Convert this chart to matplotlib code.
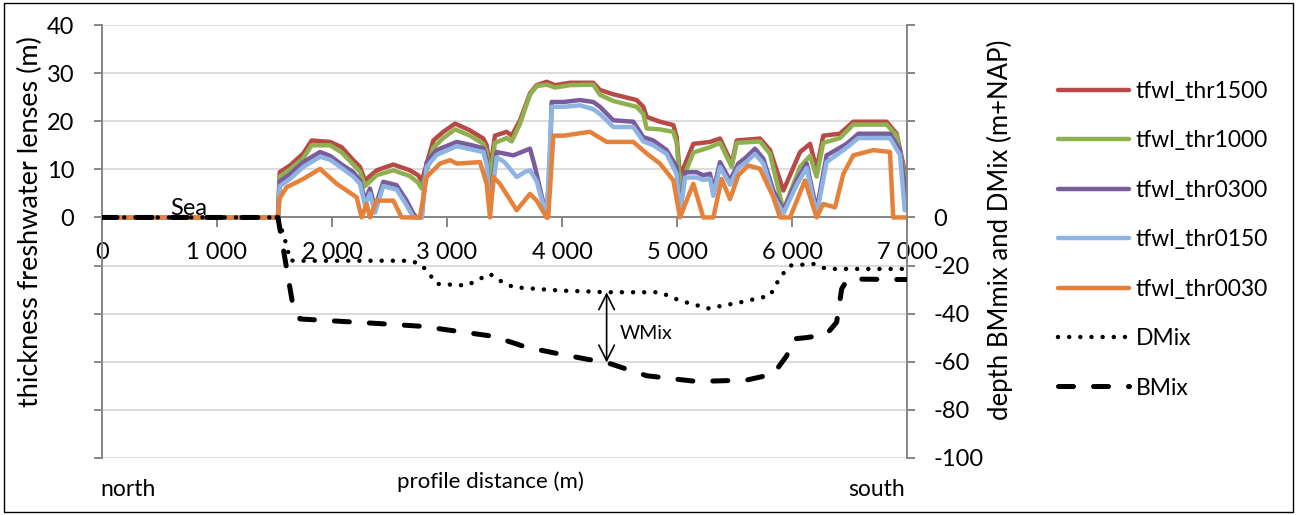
import matplotlib
matplotlib.use("Agg")
import matplotlib.pyplot as plt
from matplotlib.patches import Rectangle
from matplotlib.ticker import FuncFormatter

plt.rcParams['font.family'] = ['Lato', 'DejaVu Sans']

# ---------------- data (distance in m) ----------------
x_1500 = [0, 1530, 1545, 1635, 1750, 1823, 1983, 2084, 2185, 2243, 2287, 2389, 2533, 2678, 2750, 2780,
          2881, 2968, 3070, 3200, 3316, 3345, 3374, 3417, 3519, 3563, 3635, 3722, 3780, 3867, 3939, 4070,
          4272, 4330, 4446, 4649, 4707, 4736, 4852, 4968, 4997, 5026, 5142, 5287, 5374, 5476, 5519, 5722,
          5809, 5925, 6070, 6157, 6214, 6272, 6417, 6533, 6823, 6910, 6997]
y_1500 = [0, 0, 9.4, 10.8, 13.3, 16, 15.7, 14.6, 11.9, 10.5, 7.7, 9.8, 11, 9.8, 8.75, 7.5,
          16, 17.8, 19.5, 18.1, 16.4, 15, 9.8, 17, 17.8, 17, 20.2, 25.8, 27.5, 28.2, 27.5, 28,
          28, 26.5, 25.6, 24.4, 23, 20.9, 19.9, 19.2, 16.7, 8.5, 15.3, 15.7, 16.4, 11.2, 16, 16.4,
          14, 5.6, 13.6, 15.3, 10, 17, 17.4, 19.9, 19.9, 17.4, 7.7]

x_1000 = x_1500
y_1000 = [0, 0, 8.5, 10, 12.3, 15, 15, 13.5, 11, 9.5, 6.5, 8.8, 9.8, 8.6, 7.2, 6,
          14.5, 16.5, 18.3, 17, 15.3, 13.5, 8, 15.5, 16.5, 15.8, 19.5, 25.5, 27.3, 27.6, 27, 27.5,
          27.6, 25.5, 24.2, 23, 21.5, 18.5, 18.3, 17.8, 15.5, 6.5, 13.5, 14.6, 15.5, 10.5, 15.5, 15.8,
          13.2, 1.5, 10.5, 12.8, 8.5, 15.5, 16.5, 19.3, 19.3, 17, 6.5]

x_0300 = [0, 1530, 1545, 1635, 1750, 1896, 1983, 2084, 2185, 2243, 2287, 2330, 2374, 2446, 2562, 2649,
          2707, 2736, 2780, 2823, 2910, 3084, 3200, 3316, 3345, 3374, 3432, 3577, 3722, 3765, 3867, 3895,
          3910, 4014, 4157, 4272, 4330, 4446, 4620, 4707, 4794, 4910, 4997, 5026, 5070, 5171, 5229, 5287,
          5316, 5374, 5461, 5533, 5606, 5678, 5751, 5838, 5925, 6041, 6128, 6214, 6301, 6475, 6577, 6852,
          6939, 6997]
y_0300 = [0, 0, 7.5, 9, 11.5, 13.6, 12.8, 11, 9.4, 7.7, 3.5, 6, 2, 7.4, 6.7, 3.5,
          0.8, 0, 0, 11.5, 14, 15.7, 15.1, 14.4, 12, 2.9, 13.6, 12.9, 14.3, 10.5, 0, 12,
          24, 24, 24.4, 24, 23, 20.2, 19.9, 16.7, 16, 14, 10.5, 1, 9.4, 9.4, 8.75, 9.1,
          5.6, 11.5, 7.7, 11.2, 12.6, 14.3, 12.2, 5.6, 1.5, 7.7, 11.2, 1.5, 12.9, 15.3, 17.4, 17.4,
          14, 2.9]

x_0150 = [0, 1530, 1545, 1635, 1750, 1896, 1983, 2084, 2185, 2243, 2287, 2330, 2374, 2446, 2562, 2649,
          2707, 2736, 2780, 2823, 2910, 3084, 3200, 3316, 3345, 3374, 3432, 3500, 3606, 3680, 3722, 3780,
          3867, 3910, 4014, 4157, 4272, 4330, 4446, 4620, 4707, 4794, 4910, 4997, 5026, 5070, 5171, 5229,
          5287, 5316, 5374, 5461, 5533, 5606, 5678, 5751, 5838, 5925, 6041, 6128, 6214, 6301, 6475, 6577,
          6852, 6939, 6980, 6997]
y_0150 = [0, 0, 6.5, 8, 10.5, 12.6, 12, 10.3, 8.5, 7, 2.5, 5, 1, 6.5, 5.8, 2.5,
          0, 0, 0, 10.5, 13, 14.8, 14.2, 13.6, 11, 1.5, 12.5, 11.5, 8.4, 9.5, 9.8, 7.5,
          0, 23, 23, 23.3, 22.5, 21.5, 18.8, 18.8, 15.8, 15, 13.2, 9, 0.5, 8.3, 8.3, 7.8,
          8, 4.5, 10.5, 6.8, 10.3, 11.6, 13.2, 11.2, 4.5, 0.8, 6.8, 10.3, 0.5, 11.5, 14.5, 16.5,
          16.5, 13, 1.5, 2]

x_0030 = [0, 1530, 1545, 1606, 1750, 1896, 2041, 2214, 2258, 2301, 2330, 2388, 2533, 2606, 2736, 2765,
          2823, 2939, 3026, 3084, 3287, 3345, 3374, 3403, 3460, 3606, 3722, 3780, 3867, 3880, 3925, 4014,
          4243, 4388, 4620, 4736, 4852, 4968, 5026, 5060, 5142, 5229, 5316, 5388, 5461, 5533, 5620, 5722,
          5838, 5896, 5983, 6113, 6214, 6272, 6374, 6447, 6533, 6707, 6852, 6880, 7000]
y_0030 = [0, 0, 4, 6.3, 8, 10.1, 7, 4.2, 0, 2.8, 0, 3.5, 3.5, 0, 0, 0,
          8.4, 11.2, 11.9, 11.2, 11.5, 7, 0, 8.4, 7, 1.5, 4.9, 3.5, 0, 0, 17, 17,
          17.8, 15.7, 15.7, 13.3, 11.2, 7.7, 0, 2.1, 7, 0, 0, 8, 3.8, 8.75, 10.8, 10.1,
          4.2, 0, 0, 7.7, 0, 2.8, 2.1, 9.1, 12.9, 14, 13.6, 0, 0]

x_dmix = [0, 1530, 1606, 1635, 1700, 2678, 2765, 2823, 2910, 3171, 3287, 3374, 3461, 3577, 3983, 4243,
          4388, 4852, 5026, 5272, 5548, 5809, 5896, 5983, 6185, 6301, 6910, 7000]
y_dmix = [0, 0, -11.7, -17.9, -18, -18, -19.3, -22, -27.6, -28.3, -25.5, -23.5, -26.3, -29, -30.4, -30.8,
          -31.1, -31.1, -34.6, -37.8, -35.3, -32.5, -24.9, -20, -19.3, -21.4, -21.4, -21.4]

x_bmix = [0, 1530, 1663, 1722, 2475, 2794, 3113, 3403, 3693, 3983, 4214, 4388, 4736, 5171, 5606, 5838,
          5954, 6012, 6136, 6301, 6388, 6432, 6475, 6504, 6881, 7000]
y_bmix = [0, 0, -37.4, -42.2, -44.3, -45.3, -47.5, -49.4, -54, -56.8, -58.9, -60.3, -65.8, -68.2, -67.6, -65.1,
          -57.5, -50.5, -49.9, -48.5, -43.6, -29.7, -26.3, -25.6, -25.8, -25.8]

series_names = ["tfwl_thr1500", "tfwl_thr1000", "tfwl_thr0300", "tfwl_thr0150", "tfwl_thr0030"]
series_x = [x_1500, x_1000, x_0300, x_0150, x_0030]
series_y = [y_1500, y_1000, y_0300, y_0150, y_0030]
series_colors = ["#B84A46", "#8FB04F", "#7A5C9C", "#8DB4E2", "#E6813A"]

x_ticks = [0, 1000, 2000, 3000, 4000, 5000, 6000, 7000]

# ---------------- figure ----------------
W, H = 1296, 515
fig = plt.figure(figsize=(W / 100, H / 100), dpi=100)
fig.patch.set_facecolor("white")

L, R, T, B = 102, 907, 25, 458
ax = fig.add_axes([L / W, 1 - B / H, (R - L) / W, (B - T) / H])
ax.set_xlim(0, 7000)
ax.set_ylim(-50, 40)

grey = "#868686"
FS = 17
ax.set_yticks(range(-50, 41, 10))
ax.yaxis.set_major_formatter(FuncFormatter(lambda v, p: f"{int(v)}" if v >= 0 else ""))
ax.grid(axis="y", color="#D9D9D9", lw=1.3, zorder=0)
ax.set_axisbelow(True)

ax.spines["top"].set_visible(False)
ax.spines["right"].set_visible(False)
ax.spines["left"].set_color(grey)
ax.spines["left"].set_linewidth(1.4)
ax.spines["bottom"].set_position(("data", 0))
ax.spines["bottom"].set_color(grey)
ax.spines["bottom"].set_linewidth(1.4)

ax.set_xticks(x_ticks)
ax.xaxis.set_major_formatter(FuncFormatter(lambda v, p: f"{int(v):,}".replace(",", " ")))
ax.tick_params(axis="x", direction="out", length=7, color=grey, width=1.4, labelsize=FS, pad=11)
ax.tick_params(axis="y", direction="out", length=6, color=grey, width=1.4, labelsize=FS, pad=14)

lines = []
for xs, ys, c, n in zip(series_x, series_y, series_colors, series_names):
    ln, = ax.plot(xs, ys, color=c, lw=3.2, solid_joinstyle="round", solid_capstyle="round", label=n, zorder=3)
    lines.append(ln)

ax2 = ax.twinx()
ax2.set_ylim(-100, 80)
ax2.set_yticks(range(-100, 81, 20))
ax2.yaxis.set_major_formatter(FuncFormatter(lambda v, p: f"{int(v)}" if v <= 0 else ""))
for s in ["top", "left", "bottom"]:
    ax2.spines[s].set_visible(False)
ax2.spines["right"].set_color(grey)
ax2.spines["right"].set_linewidth(1.4)
ax2.tick_params(axis="y", direction="out", length=6, color=grey, width=1.4, labelsize=FS, pad=13)

ld, = ax2.plot(x_dmix, y_dmix, color="black", lw=3.2, linestyle=(0, (0.01, 2.5)),
               dash_capstyle="round", label="DMix", zorder=4)
lb, = ax2.plot(x_bmix, y_bmix, color="black", lw=3.6, linestyle=(0, (3.0, 4.0)),
               dash_capstyle="round", label="BMix", zorder=4)

# WMix arrow
ax2.annotate("", xy=(4388, -31.1), xytext=(4388, -60.3),
             arrowprops=dict(arrowstyle="<->,head_length=0.8,head_width=0.4", color="black",
                             lw=1.2, mutation_scale=14, shrinkA=0, shrinkB=0))
ax2.text(4500, -48.3, "WMix", fontsize=14, ha="left", va="center")
ax.text(591, 0.6, "Sea", fontsize=17, ha="left", va="baseline", zorder=2)

# labels
fig.text(30 / W, 1 - 222 / H, "thickness freshwater lenses (m)", rotation=90,
         ha="center", va="center", fontsize=19.5)
fig.text(1000 / W, 1 - 230 / H, "depth BMmix and DMix (m+NAP)", rotation=90,
         ha="center", va="center", fontsize=18.5)
fig.text(490 / W, 1 - 482 / H, "profile distance (m)", ha="center", va="center", fontsize=16)
fig.text(100 / W, 1 - 490 / H, "north", ha="left", va="center", fontsize=16.5)
fig.text(905 / W, 1 - 490 / H, "south", ha="right", va="center", fontsize=16.5)

# legend
fig.legend(handles=lines + [ld, lb], loc="upper left", bbox_to_anchor=(1058 / W, 1 - 81 / H),
           frameon=False, fontsize=16.5, handlelength=3.1, handletextpad=0.3,
           labelspacing=1.24, borderpad=0, borderaxespad=0)

# outer border
fig.patches.append(Rectangle((4 / W, 3 / H), 1289 / W, 509 / H, transform=fig.transFigure,
                             fill=False, edgecolor="black", lw=1.0))

fig.savefig("out.png", dpi=100)
